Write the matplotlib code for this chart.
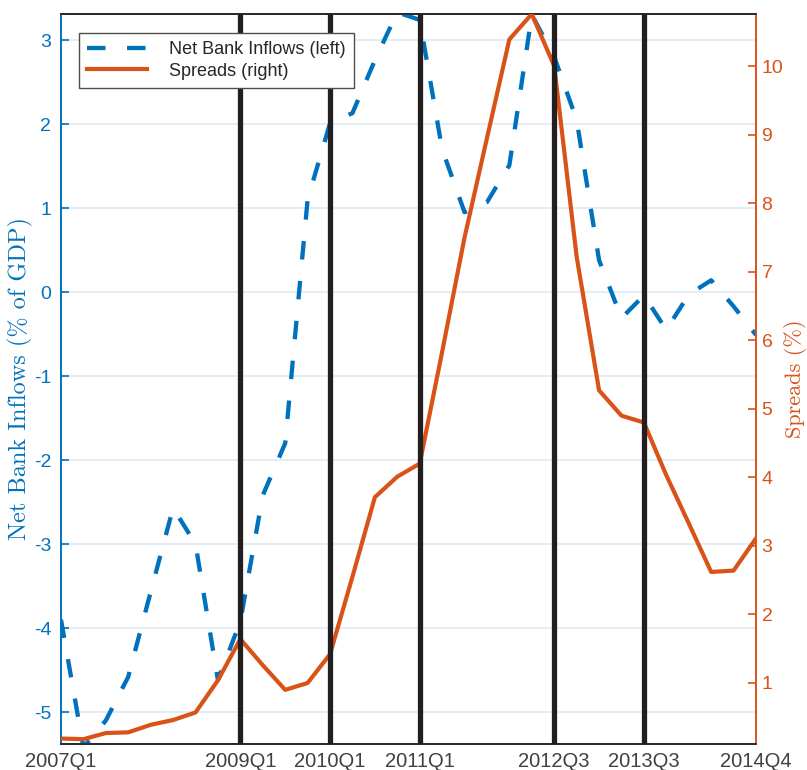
import matplotlib
matplotlib.use("Agg")
import matplotlib.pyplot as plt
import numpy as np

# quarters 2007Q1 .. 2014Q4
quarters = [f"{y}Q{q}" for y in range(2007, 2015) for q in range(1, 5)]

net_bank_inflows = [
    -3.90, -5.42, -5.10, -4.58, -3.57, -2.57, -3.00, -4.62,
    -3.92, -2.42, -1.80, 1.10, 2.01, 2.13, 2.76, 3.33,
    3.24, 1.70, 0.95, 1.07, 1.51, 3.30, 2.80, 2.05,
    0.38, -0.31, -0.04, -0.45, -0.03, 0.14, -0.17, -0.51,
]
spreads = [
    0.19, 0.18, 0.27, 0.28, 0.39, 0.46, 0.57, 1.04,
    1.64, 1.26, 0.90, 1.00, 1.42, 2.55, 3.71, 4.01,
    4.20, 5.83, 7.50, 8.95, 10.39, 10.76, 10.00, 7.22,
    5.27, 4.90, 4.80, 4.03, 3.33, 2.62, 2.64, 3.11,
]
event_quarters = ["2009Q1", "2010Q1", "2011Q1", "2012Q3", "2013Q3"]
tick_quarters = ["2007Q1", "2009Q1", "2010Q1", "2011Q1", "2012Q3", "2013Q3", "2014Q4"]

BLUE = "#0072BD"
ORANGE = "#D95319"
GRID = "#d8e8f5"
DARK = "#262626"

plt.rcParams["axes.unicode_minus"] = False
plt.rcParams["font.family"] = ["Liberation Sans", "DejaVu Sans"]

x = np.arange(len(quarters))
pos = {q: i for i, q in enumerate(quarters)}

fig = plt.figure(figsize=(8.07, 7.70), dpi=100)
ax = fig.add_axes([61 / 807, 1 - 744 / 770, 695 / 807, 730 / 770])
ax2 = ax.twinx()

ax.plot(x, net_bank_inflows, color=BLUE, lw=3.1, linestyle=(0, (4.3, 5.0)),
        label="Net Bank Inflows (left)", zorder=3)
ax2.plot(x, spreads, color=ORANGE, lw=3.0, label="Spreads (right)", zorder=3)
for q in event_quarters:
    ax2.axvline(pos[q], color="#231f20", lw=3.8, zorder=4)

ax.set_xlim(0, len(quarters) - 1)
ax.set_ylim(-5.38, 3.31)
ax2.set_ylim(0.11, 10.76)

ax.set_yticks(np.arange(-5, 4))
ax2.set_yticks(np.arange(1, 11))
ax.set_xticks([pos[q] for q in tick_quarters])
ax.set_xticklabels(tick_quarters)

ax.yaxis.grid(True, color=GRID, lw=1.1)
ax.set_axisbelow(True)

ax.tick_params(axis="y", direction="in", length=6, width=1.2, colors=BLUE,
               labelsize=14, pad=7)
ax2.tick_params(axis="y", direction="in", length=6, width=1.2, colors=ORANGE,
                labelsize=14, pad=4)
ax.tick_params(axis="x", direction="in", length=0, colors="#404040",
               labelsize=14.5, pad=6)

for a in (ax, ax2):
    a.spines["top"].set_color(DARK)
    a.spines["bottom"].set_color(DARK)
    a.spines["left"].set_color(BLUE)
    a.spines["right"].set_color(ORANGE)
    for s in a.spines.values():
        s.set_linewidth(1.2)

ax.set_ylabel("Net Bank Inflows (% of GDP)", color=BLUE, fontsize=17.5,
              family=["cmr10", "DejaVu Serif"])
ax.yaxis.set_label_coords(-0.041, 0.5)
ax2.set_ylabel("Spreads (%)", color=ORANGE, fontsize=16, rotation=90,
               family=["cmr10", "DejaVu Serif"])
ax2.yaxis.set_label_coords(1.041, 0.5)

handles = ax.get_lines()[:1] + ax2.get_lines()[:1]
leg = ax2.legend(handles, [h.get_label() for h in handles], loc="upper left",
                 bbox_to_anchor=(0.026, 0.974), borderaxespad=0, fontsize=13,
                 fancybox=False, framealpha=1, edgecolor="#4d4d4d",
                 handlelength=3.3, handletextpad=1.25, labelspacing=0.25,
                 borderpad=0.45)
leg.get_frame().set_linewidth(1.0)
for t in leg.get_texts():
    t.set_color(DARK)

fig.savefig("out.png", dpi=100)
